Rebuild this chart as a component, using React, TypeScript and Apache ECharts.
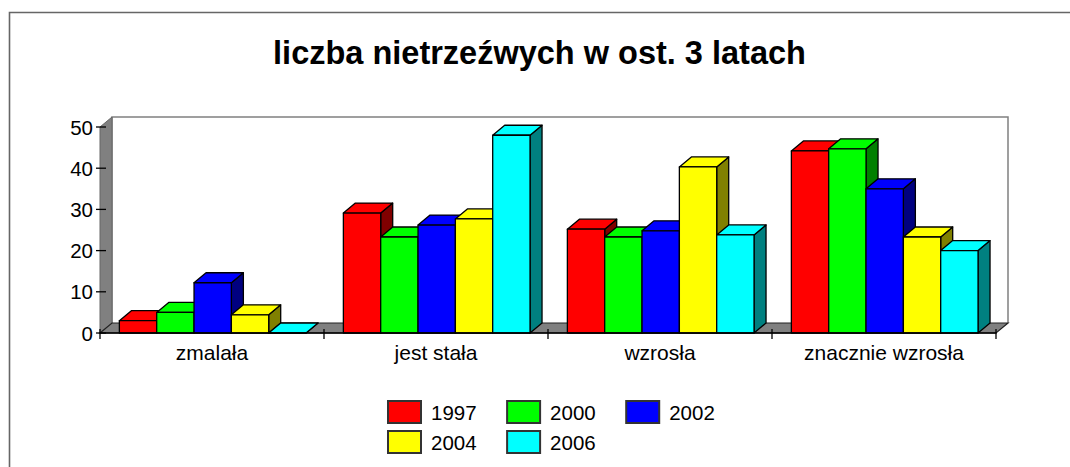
import React, { useEffect, useRef } from "react";
import * as echarts from "echarts";

const titleText = "liczba nietrzeźwych w ost. 3 latach";
const categories = ["zmalała", "jest stała", "wzrosła", "znacznie wzrosła"];
const years = ["1997", "2000", "2002", "2004", "2006"];
const values1997 = [3, 29.1, 25.2, 44.2];
const values2000 = [5, 23.3, 23.3, 44.7];
const values2002 = [12.2, 26.2, 24.8, 35];
const values2004 = [4.4, 27.7, 40.3, 23.3];
const values2006 = [0, 48, 23.8, 20];
const seriesValues = [values1997, values2000, values2002, values2004, values2006];
const frontColors = ["#ff0000", "#00ff00", "#0000ff", "#ffff00", "#00ffff"];
const sideColors = ["#800000", "#008000", "#000080", "#808000", "#008080"];
const yTicks = [0, 10, 20, 30, 40, 50];

const DEPTH_X = 12;
const DEPTH_Y = 10;
const FONT = "'Liberation Sans', Arial, sans-serif";

function bar3d(seriesIndex: number) {
  return (_params: any, api: any) => {
    const bandWidth = api.size([1, 0])[0];
    const barWidth = bandWidth / 6;
    const top = api.coord([api.value(0), api.value(1)]);
    const base = api.coord([api.value(0), 0]);
    const x0 = top[0] + (seriesIndex - 2.5) * barWidth + 0.7;
    const x1 = x0 + barWidth;
    const y0 = top[1];
    const y1 = base[1];
    const stroke = { stroke: "#000", lineWidth: 1.3, lineJoin: "round" };
    return {
      type: "group",
      children: [
        {
          type: "polygon",
          shape: { points: [[x1, y0], [x1 + DEPTH_X, y0 - DEPTH_Y], [x1 + DEPTH_X, y1 - DEPTH_Y], [x1, y1]] },
          style: { fill: sideColors[seriesIndex], ...stroke },
        },
        {
          type: "polygon",
          shape: { points: [[x0, y0], [x0 + DEPTH_X, y0 - DEPTH_Y], [x1 + DEPTH_X, y0 - DEPTH_Y], [x1, y0]] },
          style: { fill: frontColors[seriesIndex], ...stroke },
        },
        {
          type: "rect",
          shape: { x: x0, y: y0, width: barWidth, height: y1 - y0 },
          style: { fill: frontColors[seriesIndex], ...stroke },
        },
      ],
    };
  };
}

function chassis(params: any, api: any) {
  const bandWidth = api.size([1, 0])[0];
  const left = api.coord([0, 0])[0] - bandWidth / 2;
  const right = left + bandWidth * categories.length;
  const y0 = api.coord([0, 0])[1];
  const y50 = api.coord([0, 50])[1];
  const ticks: any[] = [];
  yTicks.forEach((t) => {
    const y = api.coord([0, t])[1];
    ticks.push({ type: "line", shape: { x1: left - 4, y1: y, x2: left + 6, y2: y }, style: { stroke: "#000", lineWidth: 1.3 } });
  });
  for (let i = 0; i <= categories.length; i++) {
    const x = left + i * bandWidth;
    ticks.push({ type: "line", shape: { x1: x, y1: y0 - 4, x2: x, y2: y0 + 6 }, style: { stroke: "#000", lineWidth: 1.3 } });
  }
  return {
    type: "group",
    children: [
      {
        type: "polyline",
        shape: { points: [[left + DEPTH_X, y0 - DEPTH_Y], [left + DEPTH_X, y50 - DEPTH_Y], [right + DEPTH_X, y50 - DEPTH_Y], [right + DEPTH_X, y0 - DEPTH_Y]] },
        style: { fill: "none", stroke: "#808080", lineWidth: 1.5 },
      },
      {
        type: "polygon",
        shape: { points: [[left, y0], [left + DEPTH_X, y0 - DEPTH_Y], [left + DEPTH_X, y50 - DEPTH_Y], [left, y50]] },
        style: { fill: "#808080", stroke: "#666", lineWidth: 1 },
      },
      {
        type: "polygon",
        shape: { points: [[left, y0], [left + DEPTH_X, y0 - DEPTH_Y], [right + DEPTH_X, y0 - DEPTH_Y], [right, y0]] },
        style: { fill: "#808080", stroke: "#222", lineWidth: 1.2 },
      },
      ...ticks,
    ],
  };
}

export default function App() {
  const ref = useRef<HTMLDivElement>(null);
  useEffect(() => {
    const chart = echarts.init(ref.current!, undefined, { renderer: "svg" });
    const legendBase = {
      orient: "horizontal",
      icon: "rect",
      itemWidth: 33,
      itemHeight: 22,
      itemGap: 29.5,
      selectedMode: false,
      padding: 0,
      textStyle: { fontFamily: FONT, fontSize: 20.5, color: "#000", padding: [0, 0, 0, 5] },
    };
    chart.setOption({
      animation: false,
      title: {
        text: titleText,
        left: 534.5,
        top: 31,
        textAlign: "center",
        textStyle: { fontFamily: FONT, fontSize: 32.5, fontWeight: "bold", color: "#000" },
      },
      legend: [
        { ...legendBase, left: 387, top: 400, data: years.slice(0, 3) },
        { ...legendBase, left: 387, top: 430, data: years.slice(3) },
      ],
      grid: { left: 100, right: 74, top: 127, bottom: 134 },
      xAxis: {
        type: "category",
        data: categories,
        z: 10,
        axisLine: { show: true, lineStyle: { color: "#000", width: 1.5 } },
        axisTick: { show: false },
        axisLabel: { color: "#000", fontFamily: FONT, fontSize: 21, margin: 9, interval: 0 },
        splitLine: { show: false },
      },
      yAxis: {
        type: "value",
        min: 0,
        max: 50,
        interval: 10,
        axisLine: { show: false },
        axisTick: { show: false },
        axisLabel: { color: "#000", fontFamily: FONT, fontSize: 20.5, margin: 7, padding: [0, 0, 4, 0] },
        splitLine: { show: false },
      },
      graphic: [
        {
          type: "polyline",
          shape: { points: [[9.5, 467], [9.5, 12.5], [1070, 12.5]] },
          style: { fill: "none", stroke: "#666", lineWidth: 1.6 },
        },
      ],
      series: [
        {
          type: "custom",
          name: "chassis",
          silent: true,
          data: [[0, 0]],
          encode: { x: 0, y: 1 },
          renderItem: chassis,
          z: 1,
        },
        ...years.map((year, i) => ({
          type: "custom",
          name: year,
          silent: true,
          itemStyle: { color: frontColors[i], borderColor: "#333", borderWidth: 1 },
          data: seriesValues[i].map((v, c) => [c, v]),
          encode: { x: 0, y: 1 },
          renderItem: bar3d(i),
          z: 2 + i,
        })),
      ],
    });
    return () => chart.dispose();
  }, []);
  return <div ref={ref} style={{ position: "absolute", left: 0, top: 0, width: 1070, height: 467 }} />;
}
